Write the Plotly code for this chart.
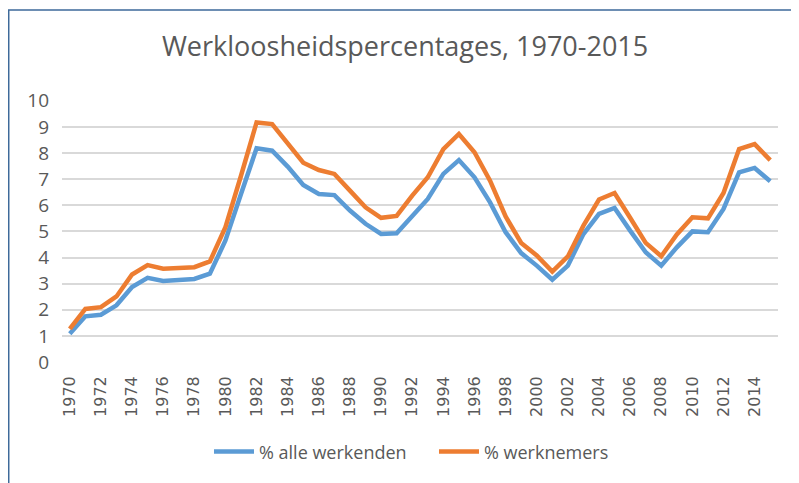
import plotly.graph_objects as go

years = list(range(1970, 2016))

# % alle werkenden
alle_werkenden = [
    1.08, 1.75, 1.81, 2.17, 2.87, 3.22, 3.10, 3.13, 3.18, 3.38,
    4.65, 6.43, 8.18, 8.09, 7.48, 6.78, 6.43, 6.39, 5.80, 5.29,
    4.90, 4.93, 5.60, 6.24, 7.20, 7.73, 7.07, 6.11, 4.97, 4.17,
    3.69, 3.15, 3.69, 4.90, 5.67, 5.90, 5.03, 4.20, 3.69, 4.39,
    5.00, 4.97, 5.86, 7.26, 7.43, 6.92,
]

# % werknemers
werknemers = [
    1.27, 2.03, 2.10, 2.51, 3.35, 3.71, 3.57, 3.61, 3.63, 3.85,
    5.16, 7.13, 9.17, 9.11, 8.38, 7.63, 7.35, 7.20, 6.56, 5.92,
    5.52, 5.59, 6.37, 7.07, 8.15, 8.73, 8.03, 6.94, 5.57, 4.56,
    4.08, 3.46, 4.04, 5.22, 6.22, 6.47, 5.52, 4.56, 4.05, 4.88,
    5.54, 5.50, 6.47, 8.15, 8.34, 7.73,
]

title = "Werkloosheidspercentages, 1970-2015"
grey = "#595959"

fig = go.Figure()
fig.add_trace(go.Scatter(
    x=years, y=alle_werkenden, mode="lines", name="% alle werkenden",
    line=dict(color="#5B9BD5", width=4.5),
))
fig.add_trace(go.Scatter(
    x=years, y=werknemers, mode="lines", name="% werknemers",
    line=dict(color="#ED7D31", width=4.5),
))

# outer chart frame (right and bottom edges fall outside the window)
fig.add_shape(
    type="rect", xref="paper", yref="paper",
    x0=-0.0744, x1=1.08, y0=-0.6, y1=1.3435,
    line=dict(color="#3E6A9A", width=1.5), layer="below",
)

# the page body has an 8px margin, so the figure is sized to end at the window edge
fig.update_layout(
    width=791, height=475,
    margin=dict(l=54, r=21, t=92, b=121),
    plot_bgcolor="white", paper_bgcolor="white",
    title=dict(text=title, x=0.502, xanchor="center", y=0.918, yanchor="middle",
               font=dict(family="Open Sans", size=27, color=grey)),
    showlegend=True,
    legend=dict(orientation="h", x=0.2053, xanchor="left", y=-0.343, yanchor="middle",
                font=dict(family="Open Sans", size=18, color=grey),
                itemwidth=40, entrywidth=170, entrywidthmode="pixels"),
)

fig.update_xaxes(
    range=[1969.5, 2015.5], tick0=1970, dtick=2, tickangle=-90,
    showgrid=False, zeroline=False, showline=False,
    ticklabelstandoff=10,
    tickfont=dict(family="DejaVu Sans", size=16, color=grey),
)
fig.update_yaxes(
    range=[0, 10.03], dtick=1, showgrid=True, gridcolor="#D9D9D9", gridwidth=1.5,
    zeroline=False, showline=False, ticklabelstandoff=12,
    tickfont=dict(family="Open Sans", size=19, color=grey),
)

fig.write_html("out.html")
